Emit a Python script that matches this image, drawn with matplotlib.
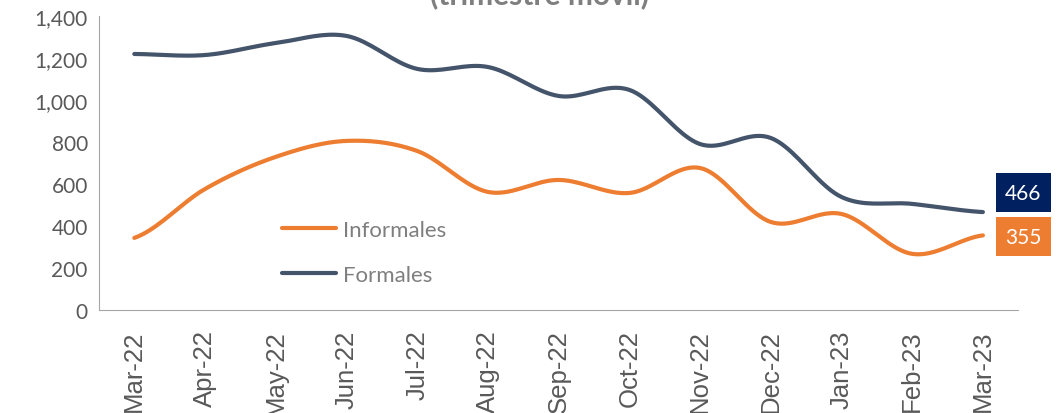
import numpy as np
import matplotlib.pyplot as plt

meses = ['Mar-22', 'Apr-22', 'May-22', 'Jun-22', 'Jul-22', 'Aug-22', 'Sep-22',
         'Oct-22', 'Nov-22', 'Dec-22', 'Jan-23', 'Feb-23', 'Mar-23']
informales = [343, 576, 729, 805, 757, 562, 619, 557, 676, 419, 457, 267, 355]
formales = [1219, 1214, 1271, 1305, 1148, 1157, 1019, 1048, 790, 819, 538, 505, 466]

c_inf = '#ED7D31'
c_for = '#44546A'
c_box = '#002060'
gris = '#595959'


def suave(y, n=20):
    # curva tipo Excel (Catmull-Rom) solo para el trazo
    y = np.asarray(y, float)
    p = np.concatenate([[y[0]], y, [y[-1]]])
    xs, ys = [], []
    for i in range(len(y) - 1):
        p0, p1, p2, p3 = p[i], p[i + 1], p[i + 2], p[i + 3]
        t = np.linspace(0, 1, n, endpoint=False)
        yy = 0.5 * ((2 * p1) + (-p0 + p2) * t + (2 * p0 - 5 * p1 + 4 * p2 - p3) * t ** 2
                    + (-p0 + 3 * p1 - 3 * p2 + p3) * t ** 3)
        xs.append(i + t)
        ys.append(yy)
    xs.append([len(y) - 1])
    ys.append([y[-1]])
    return np.concatenate(xs), np.concatenate(ys)


fig = plt.figure(figsize=(10.64, 4.14), dpi=100)
ax = fig.add_axes([0.093, 0.249, 0.864, 0.71])

x = np.arange(len(meses))
xs, ys = suave(informales)
ax.plot(xs, ys, color=c_inf, lw=3, solid_capstyle='round', label='Informales')
xs, ys = suave(formales)
ax.plot(xs, ys, color=c_for, lw=3, solid_capstyle='round', label='Formales')

ax.set_xlim(-0.5, len(meses) - 0.5)
ax.set_ylim(0, 1400)
ax.set_yticks(range(0, 1401, 200))
ax.set_yticklabels(['{:,}'.format(v) for v in range(0, 1401, 200)],
                   family='Lato', fontsize=15, color=gris)
ax.set_xticks(x)
ax.set_xticklabels(meses, rotation=90, family='Liberation Sans', fontsize=18.5, color=gris)
ax.tick_params(length=0, pad=8)
ax.tick_params(axis='x', pad=14)
for s in ['top', 'right']:
    ax.spines[s].set_visible(False)
for s in ['left', 'bottom']:
    ax.spines[s].set_color('#A6A6A6')

leg = ax.legend(loc='upper left', bbox_to_anchor=(0.199, 0.305), frameon=False,
                prop={'family': 'Lato', 'size': 16}, handlelength=2.45,
                labelspacing=1.1, handletextpad=0.3, borderpad=0, borderaxespad=0)
for t in leg.get_texts():
    t.set_color('#7F7F7F')

ax.annotate(str(formales[-1]), xy=(x[-1], formales[-1]), xytext=(29, 14),
            textcoords='offset points', ha='center', va='center', color='white',
            fontsize=15, family='Lato', annotation_clip=False,
            bbox=dict(boxstyle='square,pad=0.45', fc=c_box, ec='none'))
ax.annotate(str(informales[-1]), xy=(x[-1], informales[-1]), xytext=(29, -1),
            textcoords='offset points', ha='center', va='center', color='white',
            fontsize=15, family='Lato', annotation_clip=False,
            bbox=dict(boxstyle='square,pad=0.45', fc=c_inf, ec='none'))

fig.text(0.507, 0.99, '(trimestre móvil)', ha='center', va='baseline', family='Lato',
         fontsize=21.5, fontweight='bold', color='#7F7F7F')

fig.savefig('out.png', dpi=100)
